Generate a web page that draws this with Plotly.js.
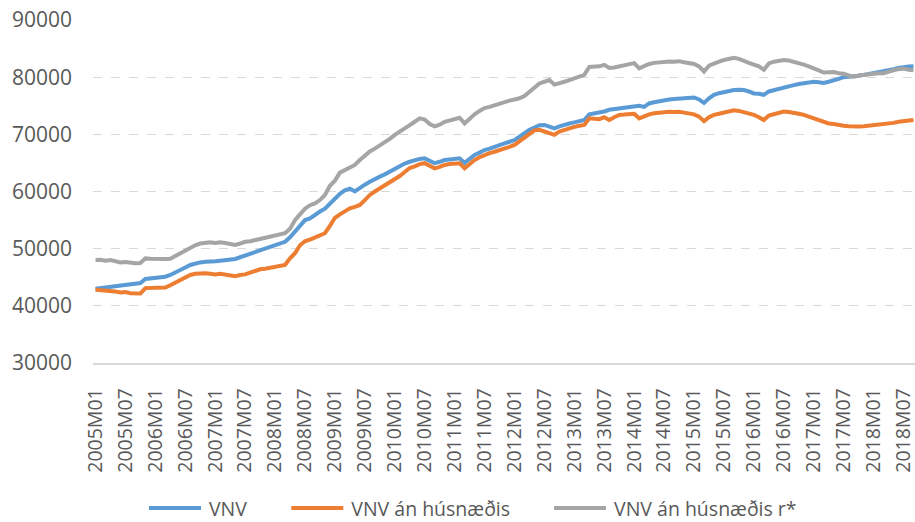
<!DOCTYPE html>
<html>
<head>
<meta charset="utf-8">
<script src="https://cdn.plot.ly/plotly-3.0.1.min.js"></script>
<style>
  html, body { margin: 0; padding: 0; background: #fff; }
  #chart { width: 915px; height: 522px; }
</style>
</head>
<body>
<div id="chart"></div>
<script>
// Monthly categories 2005M01 .. 2018M09
const startYear = 2005;
const monthCount = 165;
const categories = [];
for (let i = 0; i < monthCount; i++) {
  const y = startYear + Math.floor(i / 12);
  const m = (i % 12) + 1;
  categories.push(y + 'M' + (m < 10 ? '0' + m : m));
}
const tickLabels = categories.filter((c, i) => i % 6 === 0);

const seriesNames = ['VNV', 'VNV án húsnæðis', 'VNV án húsnæðis r*'];

const vnv = [
  43000, 43100, 43200, 43350, 43400, 43600, 43650, 43700, 43850, 44000, 44700, 44800,
  44800, 44900, 45100, 45400, 45900, 46300, 46700, 47150, 47400, 47600, 47700, 47700,
  47800, 47900, 48000, 48100, 48200, 48500, 48800, 49100, 49400, 49700, 50000, 50300,
  50500, 50900, 51200, 52000, 53000, 54000, 55000, 55300, 56000, 56500, 57000, 57900,
  58800, 59600, 60200, 60500, 60000, 60700, 61200, 61700, 62200, 62600, 63000, 63500,
  64000, 64500, 64900, 65200, 65500, 65700, 65800, 65300, 64950, 65200, 65500, 65600,
  65700, 65800, 65000, 65700, 66400, 66800, 67250, 67500, 67850, 68100, 68400, 68700,
  69000, 69600, 70300, 70800, 71200, 71600, 71650, 71350, 71050, 71400, 71700, 71900,
  72100, 72300, 72500, 73500, 73650, 73800, 74000, 74300, 74400, 74500, 74700, 74850,
  74950, 75000, 74800, 75400, 75600, 75800, 76000, 76100, 76200, 76300, 76350, 76400,
  76450, 76100, 75500, 76300, 76900, 77200, 77400, 77600, 77750, 77800, 77750, 77500,
  77150, 77100, 76900, 77500, 77750, 78000, 78200, 78400, 78600, 78800, 78950, 79000,
  79200, 79100, 79000, 79200, 79400, 79700, 80000, 80050, 80100, 80250, 80400, 80550,
  80700, 80800, 80950, 81200, 81400, 81600, 81800, 81850, 81900
];

const vnvAnHusn = [
  42800, 42750, 42700, 42600, 42500, 42350, 42400, 42200, 42100, 42150, 43100, 43150,
  43100, 43200, 43200, 43600, 44100, 44500, 45000, 45400, 45600, 45700, 45700, 45600,
  45500, 45600, 45500, 45300, 45200, 45400, 45500, 45800, 46100, 46400, 46500, 46700,
  46800, 47000, 47150, 48300, 49200, 50600, 51300, 51600, 52000, 52300, 52700, 54000,
  55400, 56000, 56500, 57050, 57300, 57650, 58500, 59400, 60000, 60500, 61000, 61500,
  62000, 62700, 63400, 64100, 64400, 64800, 64950, 64400, 64050, 64300, 64650, 64800,
  64900, 64950, 64050, 64800, 65500, 66000, 66400, 66700, 66950, 67200, 67550, 67800,
  68150, 68800, 69500, 70200, 70700, 70800, 70500, 70200, 69900, 70500, 70800, 71050,
  71300, 71500, 71650, 72800, 72700, 72650, 73000, 72500, 73000, 73400, 73450, 73500,
  73600, 72800, 73200, 73500, 73700, 73800, 73900, 73950, 73900, 73950, 73800, 73650,
  73500, 73100, 72300, 73000, 73400, 73600, 73800, 74000, 74200, 74100, 73900, 73700,
  73400, 73000, 72500, 73300, 73500, 73800, 74000, 73900, 73800, 73600, 73400, 73100,
  72800, 72400, 72100, 71900, 71800, 71600, 71500, 71400, 71300, 71350, 71400, 71500,
  71600, 71650, 71700, 71800, 72000, 72200, 72300, 72400, 72500
];

const vnvAnHusnR = [
  48000, 48050, 47900, 48000, 47800, 47600, 47650, 47500, 47450, 47500, 48300, 48250,
  48200, 48300, 48200, 48250, 48700, 49200, 49700, 50200, 50600, 50900, 51000, 51100,
  51000, 51100, 51000, 50800, 50650, 50900, 51200, 51300, 51500, 51800, 52000, 52200,
  52400, 52600, 52700, 53500, 55000, 56000, 57000, 57600, 57900, 58500, 59400, 61000,
  61900, 63300, 63800, 64200, 64650, 65500, 66300, 67000, 67500, 68000, 68500, 69200,
  69900, 70400, 70900, 71600, 72200, 72800, 72600, 71800, 71400, 71700, 72200, 72400,
  72700, 72900, 71900, 72800, 73500, 74100, 74600, 74800, 75100, 75400, 75700, 75900,
  76100, 76300, 76700, 77500, 78300, 78900, 79200, 79500, 78700, 78900, 79200, 79500,
  79800, 80100, 80400, 81800, 81850, 81900, 82150, 81600, 81700, 81900, 82100, 82300,
  82450, 81550, 82000, 82300, 82500, 82600, 82700, 82750, 82700, 82800, 82600, 82400,
  82300, 81900, 81000, 82000, 82400, 82700, 83000, 83200, 83400, 83200, 82800, 82500,
  82200, 81900, 81300, 82400, 82700, 82900, 83000, 82900, 82700, 82500, 82200, 81900,
  81600, 81200, 80800, 80900, 80900, 80700, 80600, 80300, 80100, 80300, 80400, 80600,
  80700, 80700, 80700, 81000, 81200, 81400, 81500, 81300, 81200
];

const colors = ['#5B9BD5', '#ED7D31', '#A5A5A5'];
const allSeries = [vnv, vnvAnHusn, vnvAnHusnR];

const traces = allSeries.map((vals, k) => ({
  type: 'scatter',
  mode: 'lines',
  x: categories,
  y: vals,
  name: seriesNames[k],
  line: { color: colors[k], width: 4 },
  hoverinfo: 'x+y+name'
}));

const fontFam = '"Open Sans", "Liberation Sans", Arial, sans-serif';

const layout = {
  width: 915,
  height: 522,
  margin: { l: 93, r: 0, t: 20, b: 159 },
  paper_bgcolor: '#ffffff',
  plot_bgcolor: '#ffffff',
  font: { family: fontFam, color: '#595959', size: 20 },
  showlegend: true,
  legend: {
    orientation: 'h',
    xref: 'container',
    yref: 'container',
    x: 0.1202,
    xanchor: 'left',
    y: 0.026,
    yanchor: 'middle',
    itemwidth: 89,
    font: { family: fontFam, size: 19.5, color: '#595959' },
    traceorder: 'normal'
  },
  xaxis: {
    type: 'category',
    range: [-0.5, 164.3],
    tickmode: 'array',
    tickvals: tickLabels,
    ticktext: tickLabels,
    tickangle: -90,
    tickfont: { family: fontFam, size: 19.5, color: '#595959' },
    ticks: '',
    ticklabelstandoff: 16,
    showgrid: false,
    zeroline: false,
    showline: true,
    linecolor: '#D9D9D9',
    linewidth: 1.5
  },
  yaxis: {
    range: [30000, 90000],
    tickmode: 'linear',
    tick0: 30000,
    dtick: 10000,
    tickformat: 'd',
    tickfont: { family: fontFam, size: 21, color: '#595959' },
    ticks: '',
    ticklabelstandoff: 20,
    showgrid: true,
    gridcolor: '#D9D9D9',
    griddash: 'dash',
    gridwidth: 1,
    zeroline: false,
    showline: false
  }
};

Plotly.newPlot('chart', traces, layout, { staticPlot: true, displayModeBar: false }).then(function (gd) {
  // lengthen legend line samples to match the reference's long swatches
  gd.querySelectorAll('.legend .legendlines path').forEach(function (p) {
    p.setAttribute('d', 'M39,0h52');
  });
});
</script>
</body>
</html>
